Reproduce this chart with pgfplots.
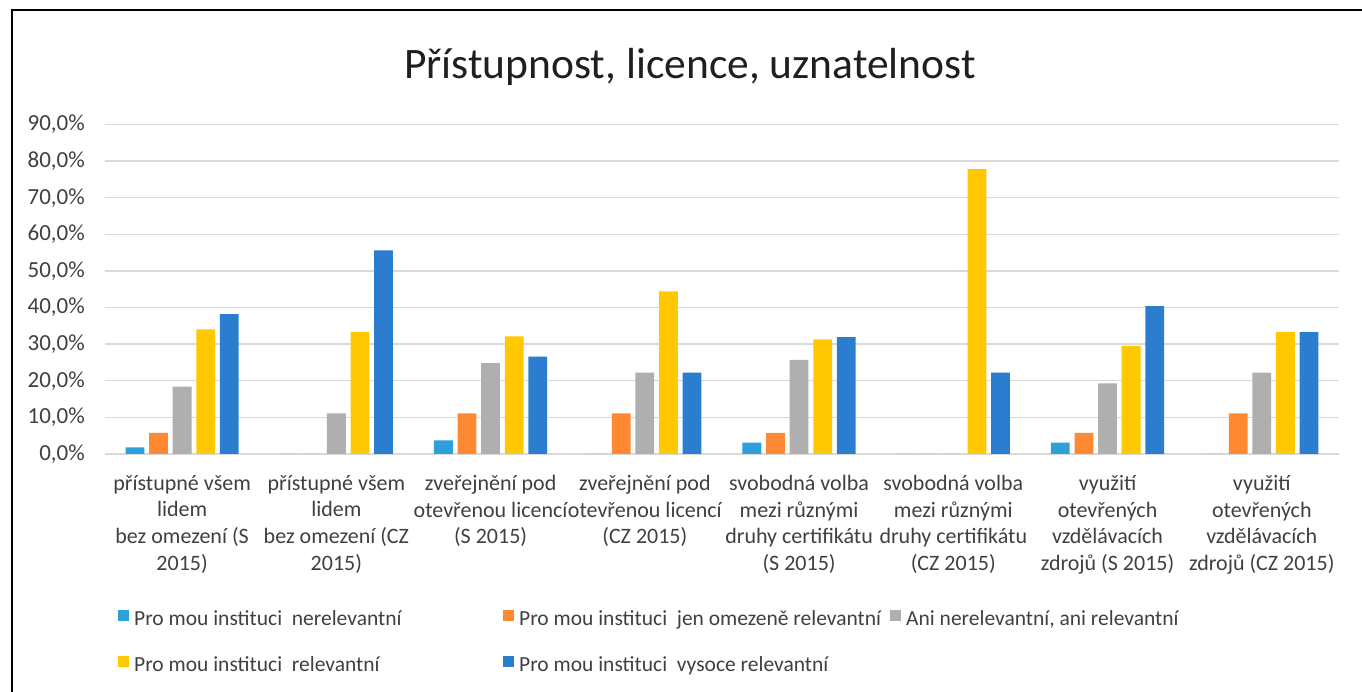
\documentclass[border=0pt]{standalone}
\usepackage{pgfplots}
\pgfplotsset{compat=1.18}
\usepackage{fontspec}
\setmainfont{Carlito}
\definecolor{c1}{RGB}{45,160,220}
\definecolor{c2}{RGB}{255,137,51}
\definecolor{c3}{RGB}{175,175,175}
\definecolor{c4}{RGB}{255,200,0}
\definecolor{c5}{RGB}{43,125,208}
\definecolor{gridc}{RGB}{217,217,217}
\definecolor{tickc}{RGB}{64,64,64}
\begin{document}
\begin{tikzpicture}[x=1pt,y=1pt]
\path[use as bounding box, fill=white] (0,0) rectangle (1362,692);
\draw[line width=2pt, black] (12,0) -- (12,682) -- (1362,682);
\node[anchor=base, font=\fontsize{43.5}{50}\selectfont, text=black!88] at (690,613.4) {Přístupnost, licence, uznatelnost};
\begin{axis}[
  at={(105pt,238pt)}, anchor=south west,
  scale only axis, width=1234pt, height=329.6pt,
  xmin=-0.5, xmax=7.5, ymin=0, ymax=90,
  ybar=4.8pt, bar width=18.8pt,
  xtick={0,...,7},
  xticklabels={
    {přístupné všem\\lidem\\bez omezení (S\\2015)},
    {přístupné všem\\lidem\\bez omezení (CZ\\2015)},
    {zveřejnění pod\\otevřenou licencí\\(S 2015)},
    {zveřejnění pod\\otevřenou licencí\\(CZ 2015)},
    {svobodná volba\\mezi různými\\druhy certifikátu\\(S 2015)},
    {svobodná volba\\mezi různými\\druhy certifikátu\\(CZ 2015)},
    {využití\\otevřených\\vzdělávacích\\zdrojů (S 2015)},
    {využití\\otevřených\\vzdělávacích\\zdrojů (CZ 2015)}},
  ytick={0,10,...,90},
  yticklabels={{0,0\%},{10,0\%},{20,0\%},{30,0\%},{40,0\%},{50,0\%},{60,0\%},{70,0\%},{80,0\%},{90,0\%}},
  ymajorgrids, grid style={color=gridc, line width=1.3pt},
  axis x line*=bottom, axis y line*=left,
  x axis line style={color=gridc, line width=1.6pt, -},
  y axis line style={draw=none},
  major tick length=0pt, tick style={draw=none},
  xticklabel style={align=center, font=\fontsize{22}{26.7}\selectfont, text=tickc, anchor=north, inner sep=0pt, yshift=-21pt},
  yticklabel style={font=\fontsize{23}{26}\selectfont, text=tickc, anchor=east, inner sep=0pt, xshift=-20pt},
  legend columns=3,
  legend style={at={(axis description cs:0.0081,-0.4672)}, anchor=north west, draw=none, fill=none,
    font=\fontsize{21.5}{25}\selectfont, text=tickc, column sep=0pt, row sep=26pt,
    nodes={inner sep=0pt, text height=15pt, text depth=5pt}, cells={anchor=west}},
  legend image code/.code={\fill[#1] (0pt,-1pt) rectangle (11pt,10pt);},
]
\addplot[fill=c1, draw=none] coordinates {(0,1.8) (1,0) (2,3.7) (3,0) (4,3.1) (5,0) (6,3.1) (7,0)};
\addplot[fill=c2, draw=none] coordinates {(0,5.8) (1,0) (2,11.1) (3,11.1) (4,5.8) (5,0) (6,5.8) (7,11.1)};
\addplot[fill=c3, draw=none] coordinates {(0,18.4) (1,11.1) (2,24.8) (3,22.2) (4,25.7) (5,0) (6,19.3) (7,22.2)};
\addplot[fill=c4, draw=none] coordinates {(0,34.0) (1,33.3) (2,32.1) (3,44.4) (4,31.3) (5,77.8) (6,29.5) (7,33.3)};
\addplot[fill=c5, draw=none] coordinates {(0,38.2) (1,55.6) (2,26.6) (3,22.2) (4,31.9) (5,22.2) (6,40.4) (7,33.3)};
\addlegendentry{\makebox[374pt][l]{\hspace{5pt}Pro mou instituci\ \ nerelevantní}}
\addlegendentry{\makebox[376pt][l]{\hspace{5pt}Pro mou instituci\ \ jen omezeně relevantní}}
\addlegendentry{\hspace{5pt}Ani nerelevantní, ani relevantní}
\addlegendentry{\makebox[374pt][l]{\hspace{5pt}Pro mou instituci\ \ relevantní}}
\addlegendentry{\makebox[376pt][l]{\hspace{5pt}Pro mou instituci\ \ vysoce relevantní}}
\end{axis}
\end{tikzpicture}
\end{document}
